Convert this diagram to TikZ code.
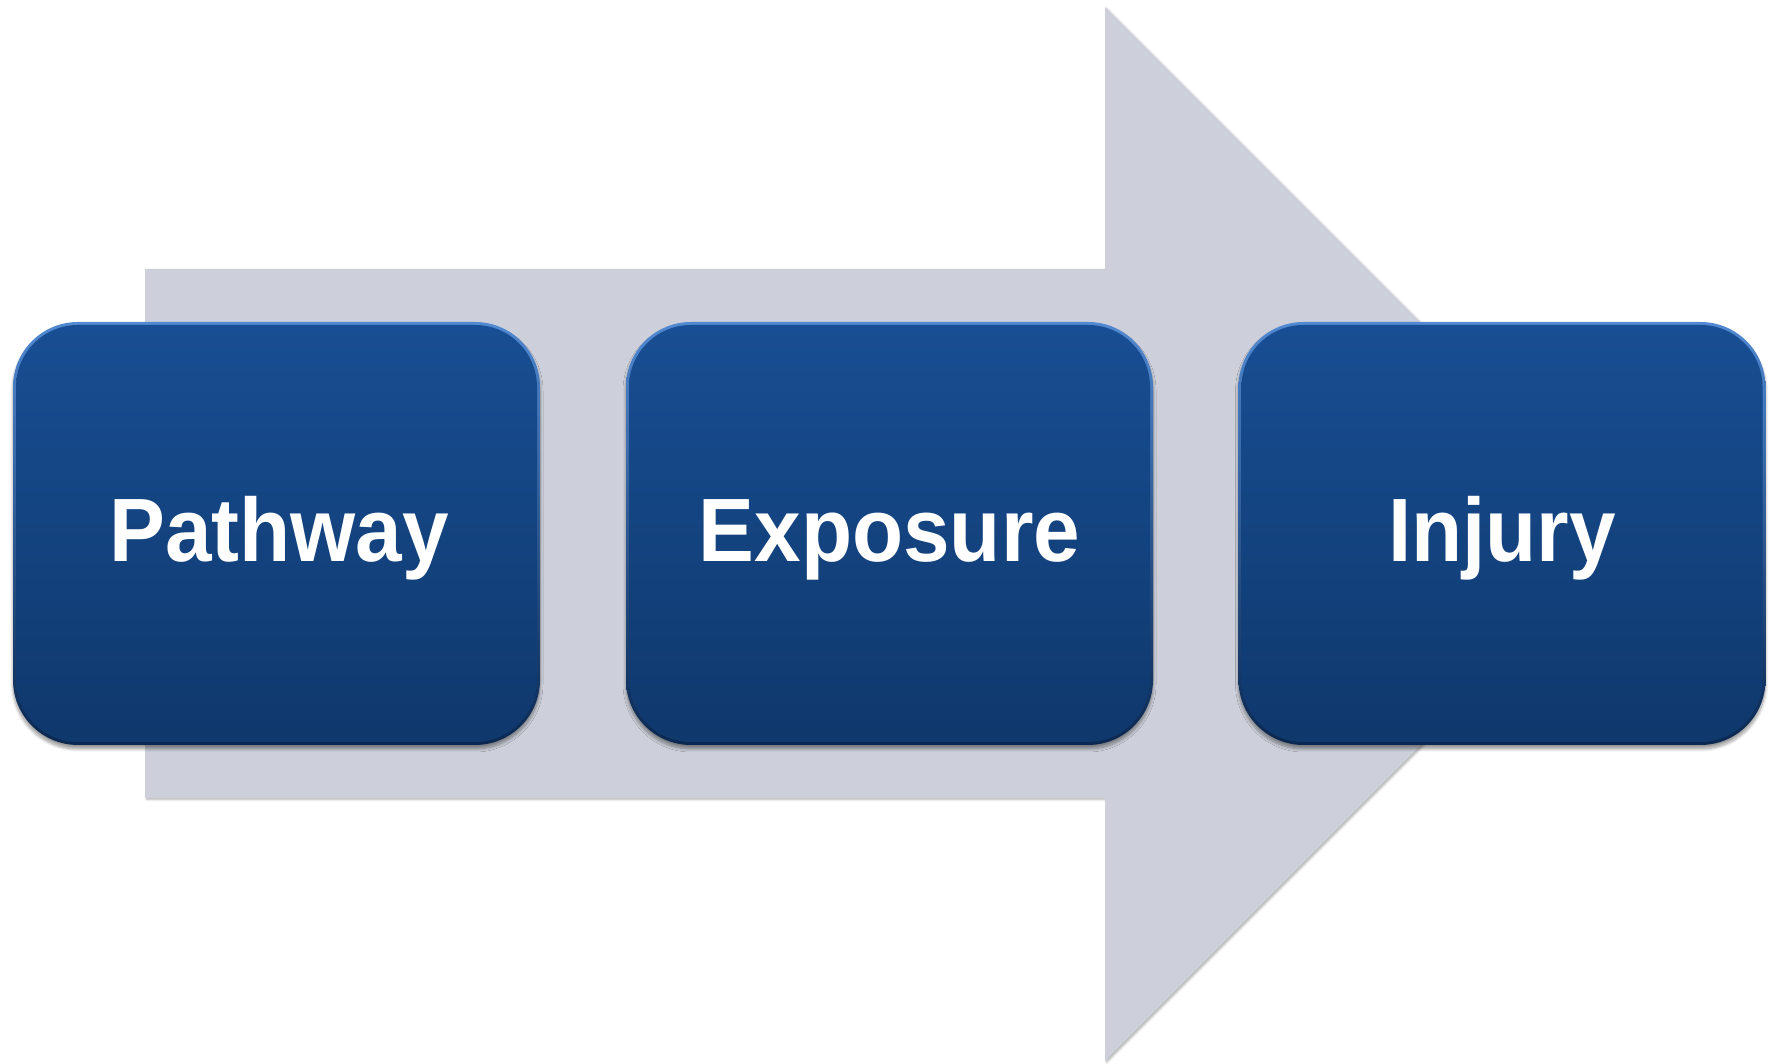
\documentclass[tikz,border=0pt]{standalone}
\usepackage{fontspec}
\setmainfont{Liberation Sans}
\usetikzlibrary{shadows.blur}
\definecolor{arrowgray}{HTML}{CDD0DA}
\definecolor{rimtop}{HTML}{5189D2}
\definecolor{rimbot}{HTML}{0A2850}
\definecolor{facetop}{HTML}{184E93}
\definecolor{facemid}{HTML}{154584}
\definecolor{facebot}{HTML}{0F386C}
\newcommand{\narrowtext}[1]{\scalebox{0.93}[1]{#1}}
\tikzset{
  rimbox/.style={rectangle, inner sep=0pt, outer sep=0pt,
    minimum width=263.5pt, minimum height=211.5pt, rounded corners=32.5pt,
    top color=rimtop, bottom color=rimbot,
    blur shadow={shadow xshift=0pt, shadow yshift=-2pt, shadow blur radius=1.5pt, shadow blur steps=8, shadow opacity=40}},
  facebox/.style={rectangle, inner sep=0pt, outer sep=0pt,
    minimum width=260.5pt, minimum height=208.5pt, rounded corners=31pt,
    top color=facetop, middle color=facemid, bottom color=facebot},
  lbl/.style={anchor=base, inner sep=0pt, text=white,
    font=\bfseries\fontsize{45}{52}\selectfont},
  bigarrow/.style={fill=arrowgray,
    blur shadow={shadow xshift=0.8pt, shadow yshift=-0.8pt, shadow blur radius=1pt, shadow opacity=30}}
}
\begin{document}
\begin{tikzpicture}[x=0.5pt,y=0.5pt]
\useasboundingbox (0,0) rectangle (1777,1064);
\path[bigarrow] (145,266) -- (1105,266) -- (1105,3) -- (1632,530) -- (1105,1057) -- (1105,795) -- (145,795) -- cycle;

\node[rimbox] (p) at (276.5,530.5) {};
\node[facebox] (pf) at (p.center) {};
\node[lbl] (pt) at (279,502) {\narrowtext{Pathway}};

\node[rimbox] (e) at (889.5,530.5) {};
\node[facebox] (ef) at (e.center) {};
\node[lbl] (et) at (889.5,502) {\narrowtext{Exposure}};

\node[rimbox] (i) at (1502,530.5) {};
\node[facebox] (if) at (i.center) {};
\node[lbl] (it) at (1502,502) {\narrowtext{Injury}};
\end{tikzpicture}
\end{document}
